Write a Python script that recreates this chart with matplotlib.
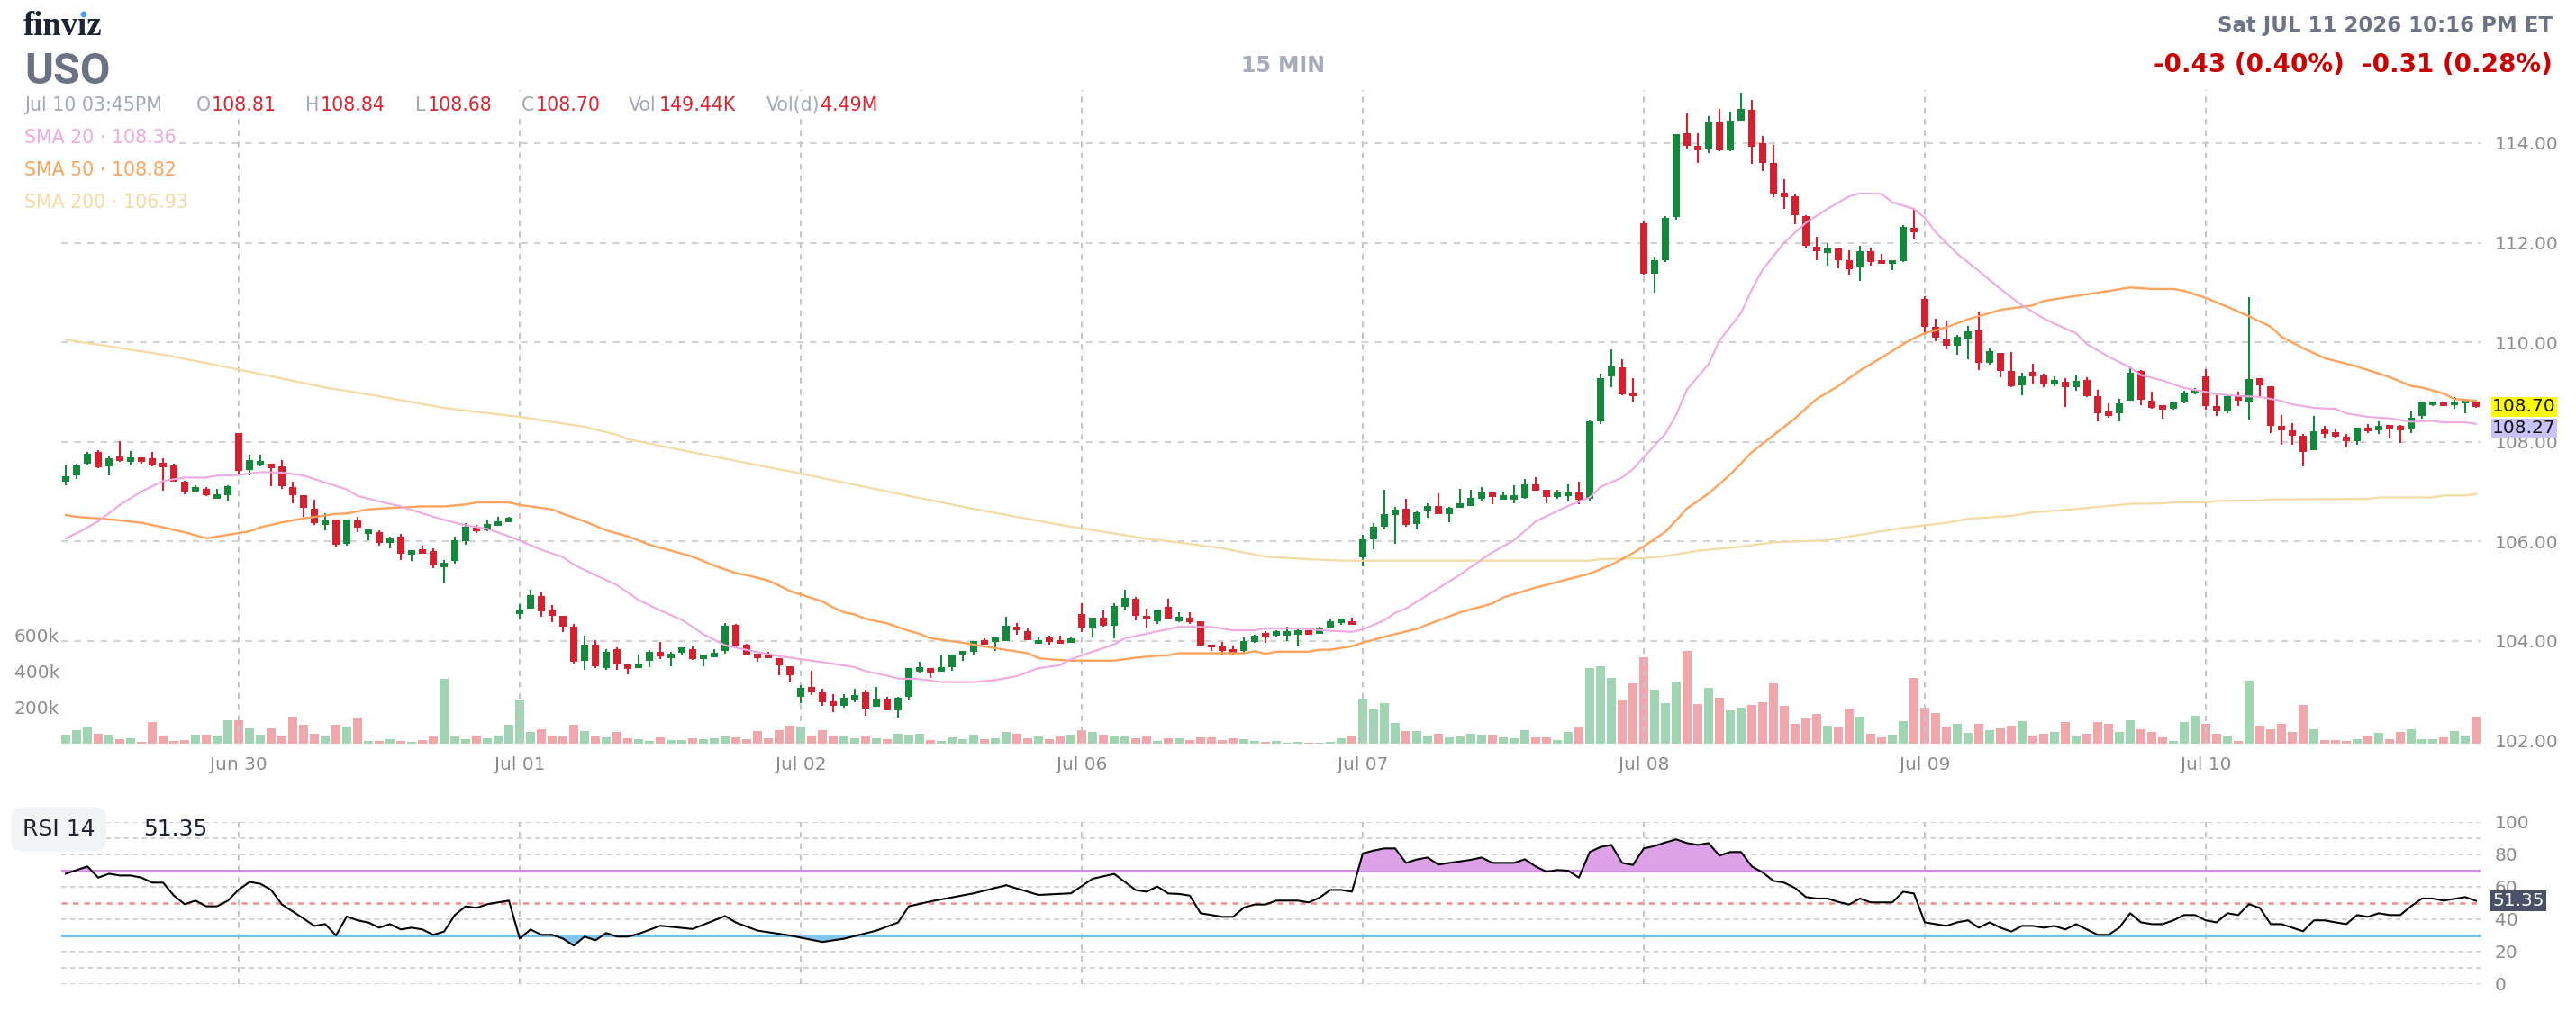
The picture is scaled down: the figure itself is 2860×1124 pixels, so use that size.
import numpy as np
import matplotlib.pyplot as plt
from matplotlib.patches import Rectangle, Ellipse

# =========================================================================== #
# data : USO 15 min candles, Jun 29 (last part) .. Jul 10

days      = ["Jun 30", "Jul 01", "Jul 02", "Jul 06", "Jul 07", "Jul 08", "Jul 09", "Jul 10"]
day_start = [16, 42, 68, 94, 120, 146, 172, 198]

opens = [
    107.19,107.33,107.56,107.80,107.51,107.71,107.60,107.69,107.67,107.58,107.53,107.20,106.99,107.06,106.86,106.92,
    108.17,107.44,107.53,107.56,107.51,107.08,106.92,106.66,106.32,106.43,105.95,106.41,106.14,106.18,105.96,106.09,105.73,105.84,105.80,105.48,105.60,106.00,106.29,106.22,106.31,106.38,
    104.54,104.65,104.90,104.63,104.51,104.28,103.59,103.92,103.45,103.84,103.52,103.46,103.60,103.77,103.65,103.76,103.84,103.64,103.67,103.80,104.32,103.92,103.74,103.74,103.65,103.49,
    102.88,103.08,102.96,102.78,102.70,102.81,102.97,102.67,102.84,102.61,102.88,103.38,103.46,103.38,103.47,103.71,103.78,104.02,103.98,103.99,104.29,104.20,103.94,104.06,104.02,103.96,
    104.54,104.24,104.47,104.30,104.69,104.85,104.50,104.39,104.68,104.39,104.46,104.40,103.93,103.88,103.83,103.80,103.98,104.15,104.11,104.11,104.12,104.21,104.14,104.27,104.36,104.40,
    105.68,106.04,106.30,106.52,106.65,106.34,106.62,106.71,106.54,106.68,106.70,106.86,106.98,106.84,106.84,106.88,107.14,107.03,106.89,106.91,106.98,106.86,108.41,109.31,109.50,108.99,
    112.39,111.37,111.65,112.51,114.20,113.94,113.90,114.41,113.86,114.46,114.67,114.00,113.60,113.00,112.93,112.53,111.92,111.80,111.88,111.64,111.51,111.82,111.65,111.57,111.63,112.29,
    110.87,110.30,110.08,109.92,110.07,110.23,109.59,109.78,109.42,109.14,109.40,109.35,109.15,109.21,109.10,109.24,108.92,108.61,108.58,108.82,109.42,108.82,108.73,108.67,108.80,108.97,
    109.32,108.72,108.60,108.92,108.78,109.27,109.12,108.31,108.22,108.12,107.83,108.24,108.19,108.10,108.02,108.29,108.23,108.34,108.31,108.26,108.52,108.74,108.79,108.74,108.77,108.81,
]
highs = [
    107.53,107.56,107.80,107.83,107.72,108.01,107.81,107.69,107.80,107.67,107.55,107.22,107.13,107.08,107.06,107.13,
    108.17,107.74,107.74,107.56,107.63,107.19,106.93,106.84,106.56,106.43,106.43,106.50,106.23,106.22,106.09,106.14,105.82,105.91,105.86,105.62,106.09,106.36,106.32,106.41,106.50,106.50,
    104.74,105.03,104.98,104.71,104.51,104.33,104.11,104.02,103.83,103.86,103.52,103.72,103.81,103.98,103.77,103.86,103.88,103.72,103.84,104.35,104.34,103.94,103.74,103.78,103.65,103.49,
    103.11,103.40,103.04,102.92,102.92,103.03,103.01,103.08,102.87,102.87,103.45,103.58,103.46,103.70,103.72,103.79,103.99,104.04,104.06,104.48,104.35,104.24,104.06,104.10,104.11,104.06,
    104.76,104.47,104.61,104.75,105.03,104.88,104.64,104.63,104.85,104.58,104.57,104.40,103.93,103.98,103.90,104.07,104.12,104.19,104.21,104.28,104.23,104.21,104.28,104.44,104.44,104.46,
    106.13,106.37,107.03,106.69,106.85,106.62,106.76,106.96,106.69,107.05,107.03,107.08,106.98,106.99,107.12,107.25,107.29,107.03,107.03,107.14,107.20,108.42,109.37,109.85,109.65,109.28,
    112.44,111.72,112.54,114.18,114.59,114.20,114.55,114.68,114.64,115.02,114.86,114.15,113.96,113.27,112.96,112.55,112.11,112.00,111.90,111.84,111.93,111.90,111.77,111.64,112.36,112.67,
    110.92,110.48,110.41,110.14,110.32,110.61,109.88,109.78,109.80,109.38,109.56,109.36,109.32,109.27,109.34,109.29,109.05,108.77,108.86,109.52,109.44,109.00,108.73,108.81,109.03,109.07,
    109.45,108.94,108.96,109.00,110.90,109.28,109.12,108.54,108.38,108.15,108.51,108.31,108.27,108.15,108.29,108.36,108.40,108.34,108.34,108.63,108.80,108.81,108.79,108.90,108.86,108.84,
]
lows = [
    107.12,107.26,107.53,107.46,107.32,107.59,107.54,107.55,107.50,107.01,107.19,106.95,106.99,106.90,106.86,106.81,
    107.35,107.33,107.51,107.11,107.06,106.77,106.49,106.32,106.22,105.87,105.91,106.18,106.02,105.91,105.86,105.62,105.60,105.75,105.46,105.16,105.55,105.93,106.16,106.20,106.31,106.38,
    104.42,104.65,104.49,104.38,104.17,103.54,103.41,103.45,103.41,103.41,103.33,103.46,103.47,103.64,103.49,103.73,103.62,103.49,103.67,103.74,103.85,103.73,103.58,103.65,103.31,103.17,
    102.74,102.90,102.70,102.56,102.65,102.76,102.49,102.67,102.60,102.45,102.81,103.37,103.26,103.38,103.40,103.60,103.73,103.92,103.80,103.99,104.12,104.01,103.94,103.92,103.94,103.96,
    104.17,104.07,104.29,104.05,104.61,104.41,104.24,104.33,104.42,104.37,104.33,103.91,103.80,103.73,103.70,103.75,103.95,103.96,104.09,104.00,103.89,104.12,104.14,104.27,104.32,104.32,
    105.50,105.84,106.23,105.95,106.29,106.23,106.48,106.55,106.39,106.68,106.70,106.79,106.75,106.84,106.77,106.86,107.02,106.77,106.86,106.80,106.75,106.82,108.36,109.09,108.94,108.80,
    111.35,110.99,111.62,112.47,113.90,113.61,113.80,113.84,113.84,114.46,113.59,113.43,112.92,112.67,112.38,111.89,111.65,111.53,111.48,111.36,111.24,111.54,111.57,111.45,111.61,112.06,
    110.18,110.02,109.85,109.75,109.66,109.44,109.54,109.29,109.09,108.93,109.15,109.09,109.12,108.70,109.02,108.90,108.40,108.49,108.41,108.82,108.74,108.67,108.46,108.65,108.77,108.95,
    108.64,108.52,108.57,108.72,108.44,108.88,108.18,107.94,107.94,107.51,107.83,108.07,108.07,107.88,107.94,108.17,108.16,108.07,107.98,108.17,108.46,108.71,108.72,108.66,108.57,108.68,
]
closes = [
    107.31,107.53,107.76,107.49,107.67,107.62,107.69,107.60,107.53,107.49,107.20,106.99,107.08,106.93,106.95,107.10,
    107.42,107.63,107.62,107.47,107.11,106.92,106.68,106.36,106.41,105.93,106.43,106.27,106.23,105.96,106.05,105.75,105.82,105.75,105.51,105.57,106.02,106.29,106.20,106.34,106.40,106.47,
    104.63,104.92,104.60,104.51,104.28,103.58,103.93,103.49,103.77,103.52,103.44,103.54,103.77,103.69,103.74,103.86,103.64,103.72,103.76,104.30,103.90,103.73,103.65,103.65,103.51,103.30,
    103.06,102.97,102.76,102.69,102.86,102.90,102.63,102.83,102.60,102.86,103.45,103.47,103.37,103.47,103.72,103.79,103.99,103.93,104.06,104.30,104.21,104.01,104.02,103.98,103.94,104.04,
    104.27,104.47,104.30,104.70,104.87,104.50,104.42,104.63,104.44,104.48,104.38,103.91,103.86,103.79,103.75,103.99,104.10,104.07,104.19,104.19,104.21,104.12,104.26,104.40,104.44,104.32,
    106.04,106.30,106.54,106.64,106.32,106.58,106.71,106.55,106.67,106.76,106.87,106.99,106.89,106.92,106.92,107.14,107.02,106.89,106.98,106.99,106.84,108.40,109.28,109.51,108.95,108.91,
    111.37,111.65,112.49,114.18,113.95,113.86,114.41,113.86,114.45,114.68,113.93,113.61,112.98,112.92,112.55,111.94,111.82,111.89,111.64,111.47,111.82,111.61,111.57,111.64,112.31,112.21,
    110.30,110.09,109.92,110.11,110.21,109.59,109.82,109.42,109.12,109.32,109.32,109.15,109.24,109.09,109.22,108.92,108.58,108.52,108.77,109.38,108.85,108.68,108.65,108.79,108.98,109.05,
    108.72,108.63,108.92,108.83,109.26,109.13,108.32,108.22,108.12,107.79,108.21,108.15,108.10,108.01,108.29,108.21,108.32,108.26,108.22,108.49,108.78,108.81,108.72,108.81,108.83,108.70,
]
# volume in thousands
volumes = [
    49,74,89,54,49,25,30,10,118,44,15,20,49,49,44,128,
    128,84,49,84,44,152,103,54,44,103,93,143,15,15,25,15,10,20,39,359,39,25,44,30,44,103,
    246,64,79,44,39,103,69,39,34,64,30,25,15,35,20,20,30,25,30,40,35,25,69,30,74,99,
    89,44,74,44,40,30,40,30,25,54,49,54,20,15,35,25,49,25,30,64,54,30,40,25,40,49,
    74,64,49,44,40,30,40,15,30,30,20,34,34,20,30,25,15,10,15,7,10,7,7,10,30,44,
    251,189,226,113,69,69,44,54,34,39,54,49,49,34,30,74,34,34,20,64,89,418,430,364,240,334,
    479,301,226,345,515,221,310,256,186,200,216,230,334,209,110,141,165,101,92,195,150,56,35,52,125,364,
    200,172,96,110,59,110,75,84,100,124,45,55,65,120,39,55,120,110,65,131,80,65,35,14,120,155,
    111,56,42,15,350,101,81,111,66,216,81,20,20,15,25,45,61,25,66,81,25,25,35,71,45,149,
]

# moving averages at these bar numbers
sma20_at = [0,1,3,5,7,9,11,13,14,16,18,20,22,24,26,27,29,31,33,35,37,39,41,42,44,46,47,49,51,53,55,57,59,61,64,66,68,70,73,74,76,77,79,81,84,86,88,90,92,93,95,97,98,100,101,103,106,108,110,111,114,117,119,120,122,123,124,126,129,132,134,136,139,141,142,144,145,146,148,149,150,152,153,155,156,157,159,161,163,165,166,168,169,171,172,173,175,177,179,181,183,184,186,187,189,191,192,194,196,197,199,201,203,205,206,208,210,211,213,215,217,219,220,222,223]
sma20 = [106.06,106.16,106.40,106.73,107.00,107.21,107.28,107.28,107.32,107.33,107.39,107.38,107.32,107.18,107.04,106.91,106.80,106.70,106.56,106.43,106.32,106.25,106.10,106.01,105.83,105.68,105.53,105.32,105.12,104.82,104.61,104.42,104.13,103.91,103.77,103.69,103.63,103.57,103.47,103.39,103.30,103.24,103.23,103.17,103.17,103.21,103.29,103.45,103.51,103.63,103.78,103.93,104.05,104.14,104.19,104.28,104.28,104.21,104.21,104.25,104.25,104.20,104.18,104.23,104.41,104.56,104.65,104.92,105.33,105.78,106.02,106.40,106.71,106.88,107.09,107.28,107.45,107.69,108.16,108.54,109.05,109.56,110.03,110.59,111.06,111.46,112.00,112.40,112.68,112.93,112.99,112.98,112.81,112.68,112.50,112.21,111.78,111.43,111.07,110.74,110.48,110.37,110.18,109.96,109.71,109.49,109.34,109.23,109.08,109.04,108.96,108.92,108.90,108.82,108.75,108.68,108.66,108.57,108.50,108.47,108.40,108.42,108.39,108.39,108.36]

sma50_at = [0,1,3,5,7,9,11,13,15,17,18,20,22,25,26,28,30,33,35,37,38,41,42,45,46,48,50,52,54,58,60,62,63,65,66,67,68,70,71,72,73,74,76,78,79,80,83,86,89,90,91,93,97,99,101,102,103,109,110,111,112,115,116,117,119,120,122,125,127,129,132,133,136,138,139,141,143,145,146,148,149,150,152,154,156,158,160,161,162,164,166,168,170,171,172,174,176,179,182,183,186,189,191,193,195,196,198,200,202,204,205,207,209,212,215,217,218,220,221,223]
sma50 = [106.53,106.49,106.46,106.42,106.37,106.28,106.18,106.06,106.13,106.20,106.28,106.38,106.46,106.55,106.56,106.64,106.67,106.70,106.70,106.74,106.78,106.78,106.73,106.64,106.55,106.40,106.22,106.10,105.93,105.69,105.51,105.36,105.32,105.21,105.11,105.00,104.93,104.79,104.67,104.57,104.53,104.44,104.35,104.20,104.14,104.05,103.96,103.85,103.75,103.65,103.63,103.60,103.60,103.66,103.70,103.71,103.75,103.75,103.79,103.74,103.78,103.78,103.82,103.82,103.89,103.96,104.08,104.24,104.41,104.57,104.75,104.87,105.07,105.18,105.24,105.35,105.53,105.76,105.90,106.19,106.42,106.66,106.96,107.34,107.79,108.13,108.47,108.67,108.86,109.12,109.43,109.69,109.96,110.08,110.18,110.30,110.46,110.65,110.74,110.83,110.93,111.03,111.10,111.07,111.07,111.03,110.89,110.71,110.52,110.31,110.11,109.88,109.68,109.51,109.30,109.12,109.09,108.97,108.86,108.82]

sma200_at = [0,9,16,24,28,35,38,42,48,51,52,60,68,76,84,92,100,101,107,111,115,118,141,142,146,148,151,155,158,163,166,170,172,174,176,180,182,185,188,191,194,195,198,199,203,204,213,214,219,220,222,223]
sma200 = [110.05,109.75,109.45,109.09,108.95,108.68,108.60,108.50,108.30,108.14,108.05,107.70,107.36,107.00,106.65,106.33,106.05,106.03,105.86,105.69,105.64,105.61,105.61,105.64,105.66,105.70,105.81,105.89,105.98,106.02,106.13,106.27,106.32,106.37,106.45,106.51,106.58,106.63,106.69,106.75,106.76,106.78,106.78,106.81,106.82,106.84,106.85,106.88,106.88,106.92,106.92,106.95]

# RSI 14, turning points
rsi_at = [0,2,3,4,5,6,7,8,9,10,11,12,13,14,15,16,17,18,19,20,21,22,23,24,25,26,27,28,29,30,31,32,33,34,35,36,37,38,39,40,41,42,43,44,45,46,47,48,49,50,51,52,
          53,55,58,61,62,64,67,70,72,75,77,78,80,84,87,90,93,95,97,99,100,
          101,102,103,104,105,106,107,108,109,110,111,112,114,115,116,117,118,119,120,121,122,123,124,125,126,127,128,129,130,131,132,134,135,136,137,138,139,140,
          141,142,143,144,145,146,147,148,149,150,151,152,153,154,155,156,157,158,159,160,161,162,163,164,165,166,167,169,170,171,
          172,173,174,175,176,177,178,179,180,181,182,183,184,185,186,187,188,189,190,191,192,193,194,195,196,197,
          198,199,200,201,202,203,204,205,206,207,208,209,210,211,212,213,214,215,216,217,218,219,220,221,222,223]
rsi = [68.1,72.6,65.7,68.1,67.0,67.0,65.7,62.6,62.6,54.6,49.3,51.5,48.0,48.0,51.5,58.3,63.0,61.9,58.1,49.1,44.8,40.4,35.9,37.0,30.0,41.7,39.3,38.0,34.8,37.0,33.7,34.8,33.7,30.4,32.4,42.6,48.0,47.0,49.3,50.4,51.5,28.1,33.7,30.4,30.4,28.1,23.7,29.3,27.0,31.5,29.3,29.3,
       31.0,36.0,34.0,42.0,38.0,33.0,30.0,26.0,28.0,33.0,38.0,48.0,51.0,56.0,61.0,55.0,56.0,65.0,68.0,58.0,57.0,
       60.2,55.9,55.6,54.6,43.7,42.6,41.5,41.5,47.2,49.1,49.1,51.5,51.5,50.4,53.3,58.1,58.1,57.0,80.6,82.4,83.7,83.7,74.8,76.9,78.1,73.7,74.8,75.7,76.7,78.1,74.8,74.8,77.0,72.6,69.3,70.4,70.0,65.7,
       81.5,84.6,85.9,74.8,73.5,83.7,85.2,87.4,89.3,87.0,85.9,87.0,79.3,81.5,81.5,72.6,68.9,63.7,62.6,59.3,53.7,52.8,52.8,50.7,49.1,52.8,50.4,50.4,57.0,55.9,
       38.1,37.0,35.9,38.1,39.3,34.8,38.1,34.8,32.4,35.9,35.9,34.8,35.9,33.7,37.0,33.7,30.4,30.4,34.8,43.7,38.1,37.0,37.0,39.3,42.6,42.6,
       39.3,38.1,43.7,42.6,49.3,47.0,37.0,37.0,34.8,32.6,39.3,39.3,38.1,37.0,42.6,41.5,43.7,42.6,42.6,48.1,52.8,52.8,51.5,52.6,53.7,51.35]

price_ticks = [102, 104, 106, 108, 110, 112, 114]
vol_ticks   = [200, 400, 600]
rsi_ticks   = [0, 20, 40, 60, 80, 100]
rsi_grid    = [0, 10, 20, 40, 60, 80, 90, 100]
ob, mid, os_ = 70, 50, 30
marker_value = 108.27

ticker   = "USO"
stamp    = "Sat JUL 11 2026 10:16 PM ET"
change   = "-0.43 (0.40%)  -0.31 (0.28%)"
bar_info = [("Jul 10 03:45PM", None), ("O", "108.81"), ("H", "108.84"), ("L", "108.68"),
            ("C", "108.70"), ("Vol", "149.44K"), ("Vol(d)", "4.49M")]
sma_legend = [("SMA 20", "108.36"), ("SMA 50", "108.82"), ("SMA 200", "106.93")]

# =========================================================================== #

GREEN, RED     = "#12893a", "#d81f2e"
VGREEN, VRED   = "#a1d4b2", "#f0a7ac"
C20, C50, C200 = "#efa9e0", "#ffa35c", "#f3dba3"
GRID           = "#d2d2d2"
AXTXT          = "#8c8c8c"

W, H = 2860, 1124
fig = plt.figure(figsize=(W / 100, H / 100), dpi=100)

def box (l, t, r, b) :
    return [l / W, 1 - b / H, (r - l) / W, (b - t) / H]

def fxy (x, y) :
    return x / W, 1 - y / H

X0, X1 = 68, 2754
ax_vol = fig.add_axes(box(X0, 100, X1, 826))
ax     = fig.add_axes(box(X0, 100, X1, 826))
ax_rsi = fig.add_axes(box(X0, 913, X1, 1093))
ax.patch.set_visible(False)

n   = len(closes)
idx = np.arange(n)
xlim = (-0.42, 223.42)
for a in (ax_vol, ax, ax_rsi) :
    a.set_xlim(*xlim)
    for s in a.spines.values() :
        s.set_visible(False)

# ---- volume ----
o, h, l, c = (np.array(v) for v in (opens, highs, lows, closes))
up = c >= o
ax_vol.bar(idx, volumes, width=0.8, color=np.where(up, VGREEN, VRED), zorder=2)
ax_vol.set_ylim(0, 3621)
ax_vol.set_xticks([])
ax_vol.set_yticks(vol_ticks)
ax_vol.set_yticklabels([f"{v}k" for v in vol_ticks])
ax_vol.tick_params(axis="y", length=0, pad=1.5, labelsize=14.5, labelcolor=AXTXT)

# ---- price ----
for p in price_ticks[1:] :
    ax.axhline(p, color=GRID, lw=1.5, ls=(0, (3.5, 3.5)), zorder=1)
for d in day_start :
    ax.axvline(d, color="#c6c6c6", lw=1.5, ls=(0, (3, 3)), zorder=1)
    ax_rsi.axvline(d, color="#c6c6c6", lw=1.5, ls=(0, (3, 3)), zorder=1)

col = np.where(up, GREEN, RED)
ax.vlines(idx, l, h, colors=col, lw=1.5, zorder=3)
ax.bar(idx, np.maximum(np.abs(c - o), 0.02), bottom=np.minimum(o, c),
       width=0.72, color=col, zorder=4)

ax.plot(sma200_at, sma200, color=C200, lw=1.6, zorder=5)
ax.plot(sma50_at, sma50, color=C50, lw=1.7, zorder=5)
ax.plot(sma20_at, sma20, color=C20, lw=1.5, zorder=5)

ax.set_ylim(101.932, 115.067)
ax.yaxis.tick_right()
ax.set_yticks(price_ticks)
ax.set_yticklabels([f"{p:.2f}" for p in price_ticks])
ax.tick_params(axis="y", length=0, pad=11.5, labelsize=14.5, labelcolor=AXTXT)
ax.set_xticks(day_start)
ax.set_xticklabels(days)
ax.tick_params(axis="x", length=0, pad=10, labelsize=14.5, labelcolor=AXTXT)

ax.annotate(f"{closes[-1]:.2f}", xy=(1, closes[-1]), xycoords=("axes fraction", "data"),
            xytext=(9.5, 0), textcoords="offset points", ha="left", va="center",
            fontsize=14.5, color="#111111", annotation_clip=False, zorder=10,
            bbox=dict(boxstyle="square,pad=0.06", fc="#ffff00", ec="none"))
ax.annotate(f"{marker_value:.2f}", xy=(1, marker_value), xycoords=("axes fraction", "data"),
            xytext=(9.5, 0), textcoords="offset points", ha="left", va="center",
            fontsize=14.5, color="#111111", annotation_clip=False, zorder=10,
            bbox=dict(boxstyle="square,pad=0.06", fc="#c9c2fb", ec="none"))

# ---- rsi ----
for g in rsi_grid :
    ax_rsi.axhline(g, color="#cfcfcf", lw=1.3, ls=(0, (3, 2.5)), zorder=1)
ax_rsi.axhline(ob, color="#cf8fdf", lw=2.2, zorder=2)
ax_rsi.axhline(os_, color="#6fc0ea", lw=2.2, zorder=2)
ax_rsi.axhline(mid, color="#f28c8c", lw=1.8, ls=(0, (2.5, 2.5)), zorder=2)
r = np.array(rsi)
ax_rsi.fill_between(rsi_at, r, ob, where=r > ob, interpolate=True, color="#dca1e6", lw=0, zorder=2)
ax_rsi.fill_between(rsi_at, r, os_, where=r < os_, interpolate=True, color="#82c6ee", lw=0, zorder=2)
ax_rsi.plot(rsi_at, rsi, color="black", lw=1.5, zorder=4)
ax_rsi.set_ylim(0, 100)
ax_rsi.set_xticks([])
ax_rsi.yaxis.tick_right()
ax_rsi.set_yticks(rsi_ticks)
ax_rsi.tick_params(axis="y", length=0, pad=11.5, labelsize=14.5, labelcolor=AXTXT)
ax_rsi.annotate(f"{rsi[-1]:.2f}", xy=(1, rsi[-1]), xycoords=("axes fraction", "data"),
                xytext=(9.5, 0), textcoords="offset points", ha="left", va="center",
                fontsize=14.5, color="white", annotation_clip=False, zorder=10,
                bbox=dict(boxstyle="square,pad=0.12", fc="#4a5068", ec="none"))

# ---- header ----
fig.text(*fxy(26, 39), "finv\u0131z", family="Liberation Serif", weight="bold",
         fontsize=26.5, color="#1d2433", va="baseline")
fig.add_artist(Ellipse(fxy(93, 16), 7 / W, 7 / H, transform=fig.transFigure,
                       fc="#4a9ff5", ec="none", zorder=4))
fig.text(*fxy(27, 93), ticker, family="Roboto", weight="bold", fontsize=35,
         color="#6b7283", va="baseline")
fig.text(*fxy(1425, 73), "15 MIN", weight="bold", fontsize=17, color="#a5abbb",
         ha="center", va="center")
fig.text(*fxy(2834, 28), stamp, weight="bold", fontsize=16.5, color="#6b7385",
         ha="right", va="center")
fig.text(*fxy(2834, 72), change, weight="bold", fontsize=20, color="#cc0000",
         ha="right", va="center")

fig.add_artist(Rectangle(fxy(20, 132), 970 / W, 29 / H, transform=fig.transFigure,
                         fc="white", ec="none", zorder=1))
lab_x = [27, 218, 339, 461, 579, 698, 851]
val_x = [None, 235, 356, 475, 595, 732, 911]
for (lab, val), xl, xv in zip(bar_info, lab_x, val_x) :
    fig.text(*fxy(xl, 117), lab, fontsize=14.8, color="#a3a8b8", va="center")
    if val :
        fig.text(*fxy(xv, 117), val, fontsize=14.8, color="#dc2430", va="center")

for (name, val), yy, cc in zip(sma_legend, [153, 189, 225], [C20, C50, C200]) :
    fig.text(*fxy(27, yy), f"{name} \u00b7 {val}", fontsize=14.8, color=cc, va="center",
             bbox=dict(boxstyle="square,pad=0.15", fc="white", ec="none"))

fig.text(*fxy(25, 921), "RSI 14", fontsize=18, color="#1e2230", va="center",
         bbox=dict(boxstyle="round,pad=0.5", fc="#f2f3f5", ec="none"))
fig.text(*fxy(159, 921), f"{rsi[-1]:.2f}", fontsize=18, color="#1e2230", va="center")

fig.savefig("out.png", dpi=100, facecolor="white")
